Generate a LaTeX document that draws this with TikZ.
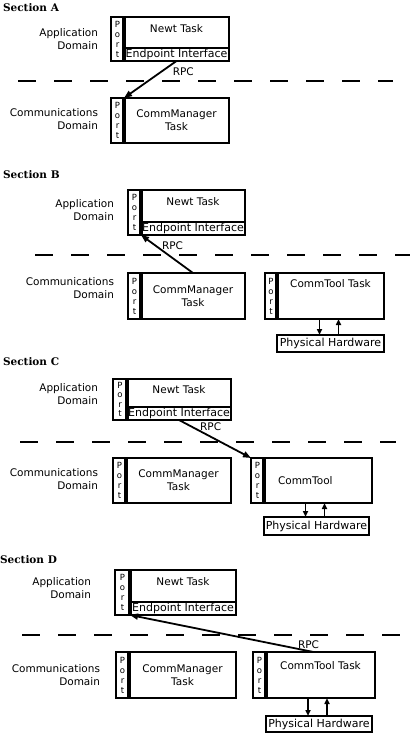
\documentclass[tikz,border=0pt]{standalone}
\usepackage{fontspec}
\setmainfont{DejaVu Sans}
\newfontfamily\headfont{DejaVu Serif}
\usepackage{tikz}
\usetikzlibrary{arrows.meta,positioning}

\begin{document}
\begin{tikzpicture}[x=1pt,y=-1pt,
  every node/.style={inner sep=0pt,outer sep=0pt,font=\fontsize{10.5}{13}\selectfont},
  heading/.style={anchor=west,font=\headfont\bfseries\fontsize{10.5}{12}\selectfont},
  domlabel/.style={anchor=east,align=right},
  taskbox/.style={draw,line width=1.6pt,anchor=north west,align=center},
  portbox/.style={draw,line width=1.6pt,anchor=north east,align=center,font=\fontsize{8.5}{10}\selectfont},
  endbox/.style={draw,line width=1.4pt,anchor=south west,minimum height=13pt,font=\fontsize{11}{13}\selectfont},
  hwbox/.style={draw,line width=1.6pt,anchor=north west,font=\fontsize{11}{13}\selectfont},
  divider/.style={line width=2.4pt,dash pattern=on 18pt off 18pt},
  portline/.style={line width=3.2pt},
  rpc/.style={line width=1.8pt,-{Triangle[length=8pt,width=6pt]}},
  hw/.style={line width=1.8pt,-{Triangle[length=6pt,width=5pt]}}]
  \useasboundingbox (0,0) rectangle (410,733);

  \node[heading] (secA) at (3,8) {Section A};
  \node[taskbox,minimum width=105pt,minimum height=44pt] (newtA) at (124,17) {};
  \node[portbox,minimum width=13pt,minimum height=44pt] (portA) at (newtA.north west) {P\\o\\r\\t};
  \node[endbox,minimum width=105pt] (endA) at (newtA.south west) {Endpoint Interface};
  \node[below=8pt of newtA.north] (nameA) {Newt Task};
  \draw[portline] (newtA.north west) -- (newtA.south west);
  \node[domlabel] (appA) at (98,39) {Application\\Domain};
  \draw[divider] (18,81) -- (393,81);
  \node[taskbox,minimum width=105pt,minimum height=45pt] (mgrA) at (124,98) {CommManager\\Task};
  \node[portbox,minimum width=13pt,minimum height=45pt] (mportA) at (mgrA.north west) {P\\o\\r\\t};
  \draw[portline] (mgrA.north west) -- (mgrA.south west);
  \node[domlabel] (commA) at (98,119.5) {Communications\\Domain};
  \draw[rpc] (endA.south) -- (mportA.north east) node[pos=0.3,right=12pt] {RPC};

  \node[heading] (secB) at (3,175) {Section B};
  \node[taskbox,minimum width=104pt,minimum height=45pt] (newtB) at (141,190) {};
  \node[portbox,minimum width=13pt,minimum height=45pt] (portB) at (newtB.north west) {P\\o\\r\\t};
  \node[endbox,minimum width=104pt] (endB) at (newtB.south west) {Endpoint Interface};
  \node[below=8pt of newtB.north] (nameB) {Newt Task};
  \draw[portline] (newtB.north west) -- (newtB.south west);
  \node[domlabel] (appB) at (114,210) {Application\\Domain};
  \draw[divider] (35,255) -- (410,255);
  \node[taskbox,minimum width=104pt,minimum height=46pt] (mgrB) at (141,273) {CommManager\\Task};
  \node[portbox,minimum width=13pt,minimum height=46pt] (mportB) at (mgrB.north west) {P\\o\\r\\t};
  \draw[portline] (mgrB.north west) -- (mgrB.south west);
  \node[domlabel] (commB) at (114,288) {Communications\\Domain};
  \node[taskbox,minimum width=107pt,minimum height=46pt] (toolB) at (277,273) {};
  \node[portbox,minimum width=12pt,minimum height=46pt] (tportB) at (toolB.north west) {P\\o\\r\\t};
  \node[below=7pt of toolB.north] (tnameB) {CommTool Task};
  \draw[portline] (toolB.north west) -- (toolB.south west);
  \node[hwbox,minimum width=107pt,minimum height=17pt] (hwB) at (277,335) {Physical Hardware};
  \draw[hw] ([xshift=-11pt]hwB.north |- toolB.south) -- ([xshift=-11pt]hwB.north);
  \draw[hw] ([xshift=8pt]hwB.north) -- ([xshift=8pt]hwB.north |- toolB.south);
  \draw[rpc] (mgrB.north) -- (portB.south east) node[pos=0.71,right=6pt] {RPC};

  \node[heading] (secC) at (3,362) {Section C};
  \node[taskbox,minimum width=104pt,minimum height=41pt] (newtC) at (127,379) {};
  \node[portbox,minimum width=14pt,minimum height=41pt,font=\fontsize{8.5}{9.5}\selectfont] (portC) at (newtC.north west) {P\\o\\r\\t};
  \node[endbox,minimum width=104pt] (endC) at (newtC.south west) {Endpoint Interface};
  \node[below=7pt of newtC.north] (nameC) {Newt Task};
  \draw[portline] (newtC.north west) -- (newtC.south west);
  \node[domlabel] (appC) at (98,394.5) {Application\\Domain};
  \draw[divider] (20,442) -- (396,442);
  \node[taskbox,minimum width=105pt,minimum height=45pt] (mgrC) at (126,458) {CommManager\\Task};
  \node[portbox,minimum width=13pt,minimum height=45pt] (mportC) at (mgrC.north west) {P\\o\\r\\t};
  \draw[portline] (mgrC.north west) -- (mgrC.south west);
  \node[domlabel] (commC) at (98,479) {Communications\\Domain};
  \node[taskbox,minimum width=108pt,minimum height=45pt] (toolC) at (264,458) {};
  \node[portbox,minimum width=13pt,minimum height=45pt] (tportC) at (toolC.north west) {P\\o\\r\\t};
  \node[right=14pt of toolC.west] (tnameC) {CommTool};
  \draw[portline] (toolC.north west) -- (toolC.south west);
  \node[hwbox,minimum width=105pt,minimum height=18pt] (hwC) at (264,517) {Physical Hardware};
  \draw[hw] ([xshift=-11pt]hwC.north |- toolC.south) -- ([xshift=-11pt]hwC.north);
  \draw[hw] ([xshift=8pt]hwC.north) -- ([xshift=8pt]hwC.north |- toolC.south);
  \draw[rpc] (endC.south) -- (tportC.north west) node[pos=0.21,right=6pt,yshift=1pt] {RPC};

  \node[heading] (secD) at (0,560) {Section D};
  \node[taskbox,minimum width=106pt,minimum height=45pt] (newtD) at (130,570) {};
  \node[portbox,minimum width=15pt,minimum height=45pt] (portD) at (newtD.north west) {P\\o\\r\\t};
  \node[endbox,minimum width=106pt] (endD) at (newtD.south west) {Endpoint Interface};
  \node[below=8pt of newtD.north] (nameD) {Newt Task};
  \draw[portline] (newtD.north west) -- (newtD.south west);
  \node[domlabel] (appD) at (91,588.5) {Application\\Domain};
  \draw[divider] (22,635) -- (400,635);
  \node[taskbox,minimum width=107pt,minimum height=46pt] (mgrD) at (129,652) {CommManager\\Task};
  \node[portbox,minimum width=13pt,minimum height=46pt] (mportD) at (mgrD.north west) {P\\o\\r\\t};
  \draw[portline] (mgrD.north west) -- (mgrD.south west);
  \node[domlabel] (commD) at (100,675.5) {Communications\\Domain};
  \node[taskbox,minimum width=109pt,minimum height=46pt] (toolD) at (266,652) {};
  \node[portbox,minimum width=13pt,minimum height=46pt] (tportD) at (toolD.north west) {P\\o\\r\\t};
  \node[below=10pt of toolD.north] (tnameD) {CommTool Task};
  \draw[portline] (toolD.north west) -- (toolD.south west);
  \node[hwbox,minimum width=106pt,minimum height=16pt] (hwD) at (266,716) {Physical Hardware};
  \draw[hw] ([xshift=-11pt]hwD.north |- toolD.south) -- ([xshift=-11pt]hwD.north);
  \draw[hw] ([xshift=8pt]hwD.north) -- ([xshift=8pt]hwD.north |- toolD.south);
  \draw[rpc] ([xshift=-7pt]toolD.north) -- (portD.south east) node[pos=0,anchor=south,xshift=-5pt,yshift=3pt] {RPC};
\end{tikzpicture}
\end{document}
